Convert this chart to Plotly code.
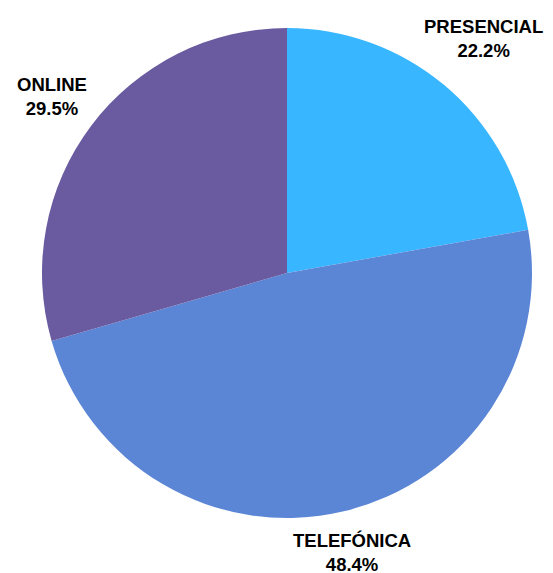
import math
import plotly.graph_objects as go

labels = ["PRESENCIAL", "TELEFÓNICA", "ONLINE"]
values = [22.2, 48.4, 29.5]
colors = ["#38B6FF", "#5B86D6", "#6A5AA0"]

W, H = 553, 573
off = 8  # page body margin in the browser
cx, cy, R = 287 - off, 273 - off, 245  # pie centre / radius in figure px
font_size = 18.5

fig = go.Figure(go.Pie(
    labels=labels,
    values=values,
    marker=dict(colors=colors, line=dict(width=0)),
    sort=False,
    direction="clockwise",
    rotation=0,
    textinfo="none",
    hoverinfo="label+percent",
    showlegend=False,
    domain=dict(x=[(cx - R) / W, (cx + R) / W],
                y=[1 - (cy + R) / H, 1 - (cy - R) / H]),
))

# labels placed just outside each slice, like datalabels anchor/align "end"
total = sum(values)
start = 0
annotations = []
for lab, val in zip(labels, values):
    mid = (start + val / 2) / total * 2 * math.pi
    start += val
    bw = 0.62 * font_size * len(lab)
    bh = 40
    ext = bw / 2 * abs(math.sin(mid)) + bh / 2 * abs(math.cos(mid))
    r = R + 9 + ext
    px = cx + r * math.sin(mid)
    py = cy - r * math.cos(mid)
    annotations.append(dict(
        x=px / W, y=1 - py / H, xref="paper", yref="paper",
        xanchor="center", yanchor="middle", showarrow=False,
        text=f"{lab}<br>{val}%",
        font=dict(size=font_size, color="black", weight="bold"),
    ))

fig.update_layout(
    width=W, height=H,
    margin=dict(l=0, r=0, t=0, b=0),
    paper_bgcolor="white",
    plot_bgcolor="white",
    font=dict(family="Liberation Sans, Arial, sans-serif"),
    annotations=annotations,
)

fig.write_html("out.html")
